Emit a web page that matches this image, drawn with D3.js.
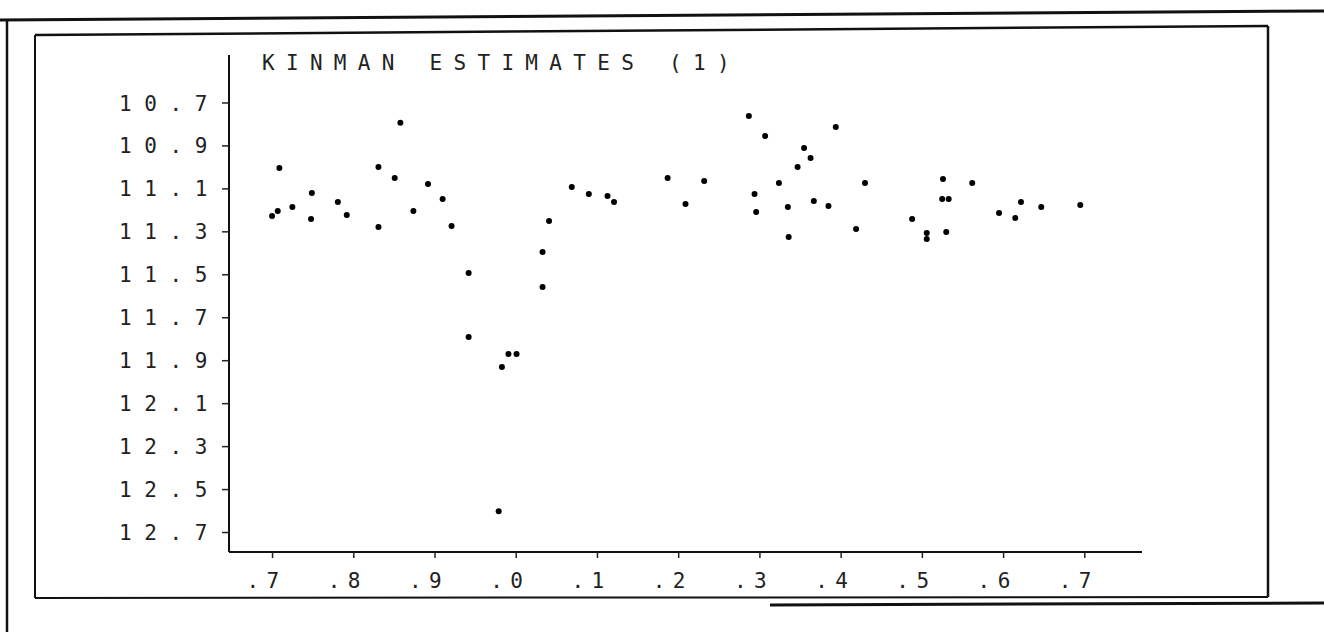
<!DOCTYPE html>
<html>
<head>
<meta charset="utf-8">
<script src="https://cdn.jsdelivr.net/npm/d3@7"></script>
<style>
  html, body { margin: 0; padding: 0; background: #fff; }
  svg { display: block; }
  text { font-family: "DejaVu Sans Mono", "Liberation Mono", monospace; fill: #222; }
</style>
</head>
<body>
<svg id="chart" width="1324" height="637"></svg>
<script>
// ---- data ----
const title = "KINMAN ESTIMATES (1)";
const xTicks = [0.7, 0.8, 0.9, 1.0, 1.1, 1.2, 1.3, 1.4, 1.5, 1.6, 1.7];
const xTickLabels = [".7", ".8", ".9", ".0", ".1", ".2", ".3", ".4", ".5", ".6", ".7"];
const yTicks = [10.7, 10.9, 11.1, 11.3, 11.5, 11.7, 11.9, 12.1, 12.3, 12.5, 12.7];
const yTickLabels = ["10.7", "10.9", "11.1", "11.3", "11.5", "11.7", "11.9", "12.1", "12.3", "12.5", "12.7"];
const xValues = [0.700, 0.707, 0.709, 0.725, 0.748, 0.749, 0.781, 0.792, 0.831, 0.831,
                 0.851, 0.858, 0.874, 0.892, 0.910, 0.921, 0.942, 0.942, 0.979, 0.983,
                 0.991, 1.001, 1.033, 1.033, 1.041, 1.069, 1.090, 1.113, 1.121, 1.187,
                 1.209, 1.232, 1.287, 1.294, 1.296, 1.307, 1.324, 1.335, 1.336, 1.347,
                 1.355, 1.363, 1.367, 1.385, 1.394, 1.419, 1.430, 1.488, 1.506, 1.506,
                 1.526, 1.525, 1.533, 1.530, 1.562, 1.595, 1.615, 1.622, 1.647, 1.695];
const yValues = [11.229, 11.205, 11.005, 11.187, 11.243, 11.121, 11.163, 11.224, 11.000, 11.280,
                 11.052, 10.795, 11.205, 11.080, 11.149, 11.275, 11.494, 11.792, 12.603, 11.932,
                 11.871, 11.871, 11.396, 11.559, 11.252, 11.094, 11.126, 11.135, 11.163, 11.052,
                 11.173, 11.066, 10.763, 11.126, 11.210, 10.856, 11.075, 11.187, 11.326, 11.000,
                 10.912, 10.958, 11.159, 11.182, 10.814, 11.289, 11.075, 11.243, 11.308, 11.336,
                 11.056, 11.149, 11.149, 11.303, 11.075, 11.215, 11.238, 11.163, 11.187, 11.177];

const svg = d3.select("#chart");

// ---- scanned-page frame ----
const frame = svg.append("g").attr("stroke", "#111").attr("fill", "none");
frame.append("line").attr("x1", 0).attr("y1", 20).attr("x2", 1324).attr("y2", 11).attr("stroke-width", 3);
frame.append("line").attr("x1", 7).attr("y1", 19).attr("x2", 7).attr("y2", 632).attr("stroke-width", 2.5);
frame.append("line").attr("x1", 35).attr("y1", 35).attr("x2", 1268).attr("y2", 26).attr("stroke-width", 2.5);
frame.append("line").attr("x1", 35).attr("y1", 35).attr("x2", 35).attr("y2", 598).attr("stroke-width", 2);
frame.append("line").attr("x1", 1268).attr("y1", 26).attr("x2", 1268).attr("y2", 597).attr("stroke-width", 2.5);
frame.append("line").attr("x1", 35).attr("y1", 598).attr("x2", 1268).attr("y2", 597).attr("stroke-width", 2);
frame.append("line").attr("x1", 770).attr("y1", 605).attr("x2", 1324).attr("y2", 603).attr("stroke-width", 3);

// ---- scales ----
const x = d3.scaleLinear().domain([0.647, 1.771]).range([229, 1142]);
const y = d3.scaleLinear().domain([10.479, 12.793]).range([55, 552]);

// axes lines
svg.append("line").attr("x1", x(0.647)).attr("x2", x(0.647)).attr("y1", y(10.479)).attr("y2", y(12.793))
   .attr("stroke", "#111").attr("stroke-width", 2);
svg.append("line").attr("x1", x(0.647)).attr("x2", x(1.771)).attr("y1", y(12.793)).attr("y2", y(12.793))
   .attr("stroke", "#111").attr("stroke-width", 2);

// y axis
const yAxis = d3.axisLeft(y).tickValues(yTicks).tickSize(7).tickPadding(16)
  .tickFormat((d, i) => yTickLabels[i]);
const gy = svg.append("g").attr("transform", `translate(${x(0.647)},0)`).call(yAxis);
gy.select(".domain").remove();
gy.selectAll(".tick line").attr("stroke", "#222").attr("stroke-width", 1.5);
gy.selectAll(".tick text").attr("font-size", 21).attr("letter-spacing", 12.6)
  .attr("text-anchor", "start").attr("x", -110).attr("dy", "0.36em").attr("fill", "#222");

// x axis
const xAxis = d3.axisBottom(x).tickValues(xTicks).tickSize(6).tickPadding(10)
  .tickFormat((d, i) => xTickLabels[i]);
const gx = svg.append("g").attr("transform", `translate(0,${y(12.793)})`).call(xAxis);
gx.select(".domain").remove();
gx.selectAll(".tick line").attr("stroke", "#222").attr("stroke-width", 1.5);
gx.selectAll(".tick text").attr("font-size", 21).attr("letter-spacing", 7.4)
  .attr("text-anchor", "start").attr("x", -26).attr("y", 36).attr("dy", 0).attr("fill", "#222");

// title
svg.append("text").attr("x", 262).attr("y", 70).attr("font-size", 21)
  .attr("letter-spacing", 11.3).text(title);

// points
const pts = xValues.map((v, i) => ({ x: v, y: yValues[i] }));
svg.append("g").selectAll("circle").data(pts).join("circle")
  .attr("cx", d => x(d.x)).attr("cy", d => y(d.y)).attr("r", 3).attr("fill", "#000");
</script>
</body>
</html>
